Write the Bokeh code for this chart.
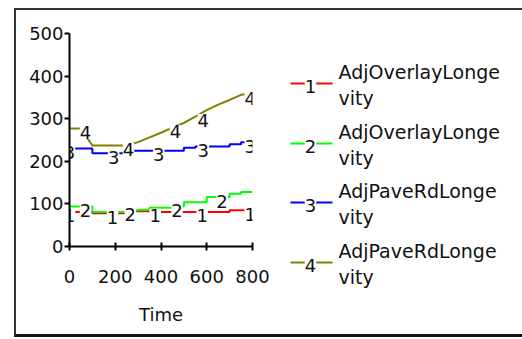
import numpy as np
from bokeh.plotting import figure
from bokeh.models import Range1d, FixedTicker
from bokeh.layouts import row
from bokeh.embed import file_html
from bokeh.resources import INLINE
from bokeh.core.properties import value

# ---- data ----
time = [0, 50, 100, 150, 200, 250, 300, 350, 400, 450, 500, 550, 600, 650, 700, 750, 800]
s1 = [81, 81, 78, 78, 78, 83, 83, 83, 81, 81, 81, 81, 81, 81, 85, 85, 85]
s2 = [94, 94, 81, 81, 81, 85, 86, 91, 91, 94, 104, 104, 116, 116, 124, 128, 128]
s3 = [230, 230, 219, 219, 219, 225, 225, 225, 225, 225, 232, 235, 235, 235, 240, 245, 245]
s4 = [277, 277, 237, 237, 237, 237, 245, 256, 267, 279, 290, 305, 320, 333, 344, 356, 360]
series = [s1, s2, s3, s4]
stepped = [True, True, True, False]
names = ["AdjOverlayLongevity", "AdjOverlayLongevity", "AdjPaveRdLongevity", "AdjPaveRdLongevity"]
markers = ["1", "2", "3", "4"]
label_times = [[0, 188, 375, 580, 790], [70, 266, 470, 667], [0, 193, 390, 585, 790], [70, 258, 463, 585, 790]]
x_ticks = [0, 200, 400, 600, 800]
y_ticks = [0, 100, 200, 300, 400, 500]
x_label = "Time"

colors = ["#ff0000", "#00ff00", "#0000ff", "#808000"]
FONT = value("DejaVu Sans")
FS = "18px"

H = 324
p = figure(width=260, height=H, x_range=Range1d(0, 800), y_range=Range1d(0, 500),
           output_backend="svg", toolbar_location=None, frame_align=False,
           min_border_left=53, min_border_right=24, min_border_top=23, min_border_bottom=88)
p.grid.visible = False
p.outline_line_color = None
p.xaxis.ticker = FixedTicker(ticks=x_ticks)
p.yaxis.ticker = FixedTicker(ticks=y_ticks)
p.xaxis.axis_label = x_label
for ax in (p.xaxis[0], p.yaxis[0]):
    ax.axis_line_width = 2
    ax.major_tick_line_width = 2
    ax.minor_tick_line_color = None
    ax.major_label_text_font = "DejaVu Sans"
    ax.major_label_text_font_size = FS
    ax.major_label_text_color = "#111111"
    ax.axis_label_text_font = "DejaVu Sans"
    ax.axis_label_text_font_size = FS
    ax.axis_label_text_font_style = "normal"
    ax.axis_label_text_color = "#111111"
p.yaxis.major_tick_out = 5
p.yaxis.major_tick_in = 0
p.yaxis.major_label_standoff = 1
p.xaxis.major_tick_out = 4
p.xaxis.major_tick_in = 4
p.xaxis.major_label_standoff = 19
p.xaxis.axis_label_standoff = 18

tarr = np.array(time)
for vals, c, st in zip(series, colors, stepped):
    if st:
        p.step(time, vals, mode="after", line_color=c, line_width=2)
    else:
        p.line(time, vals, line_color=c, line_width=2)
for vals, c, m, lt in zip(series, colors, markers, label_times):
    idx = np.searchsorted(tarr, lt, side="right") - 1
    ly = [vals[i] for i in idx]
    p.text(x=lt, y=ly, text=[m] * len(lt), text_font=FONT, text_font_size=FS,
           text_color="#111111", text_align="center", text_baseline="middle",
           y_offset=4, background_fill_color="white")

# ---- legend panel ----
q = figure(width=246, height=H, x_range=Range1d(0, 246), y_range=Range1d(H, 0),
           output_backend="svg", toolbar_location=None, x_axis_type=None, y_axis_type=None,
           frame_align=False,
           min_border_left=0, min_border_right=0, min_border_top=0, min_border_bottom=0)
q.grid.visible = False
q.outline_line_color = None
entry_y = [73, 133, 192, 252]
for ey, c, m, nm in zip(entry_y, colors, markers, names):
    cut = nm.index("Longe") + 5
    q.line([14, 56], [ey, ey], line_color=c, line_width=2)
    q.text(x=[34], y=[ey], text=[m], text_font=FONT, text_font_size=FS, text_color="#111111",
           text_align="center", text_baseline="middle", y_offset=3, background_fill_color="white")
    q.text(x=[62, 62], y=[ey - 12, ey + 14], text=[nm[:cut], nm[cut:]], text_font=FONT,
           text_font_size="19px", text_color="#111111", text_align="left", text_baseline="middle")

layout = row(p, q, styles={"position": "absolute", "left": "14px", "top": "8px",
                           "border-left": "2px solid #333333", "border-top": "2px solid #333333",
                           "border-bottom": "3px solid #111111"})

open("out.html", "w").write(file_html(layout, INLINE))
